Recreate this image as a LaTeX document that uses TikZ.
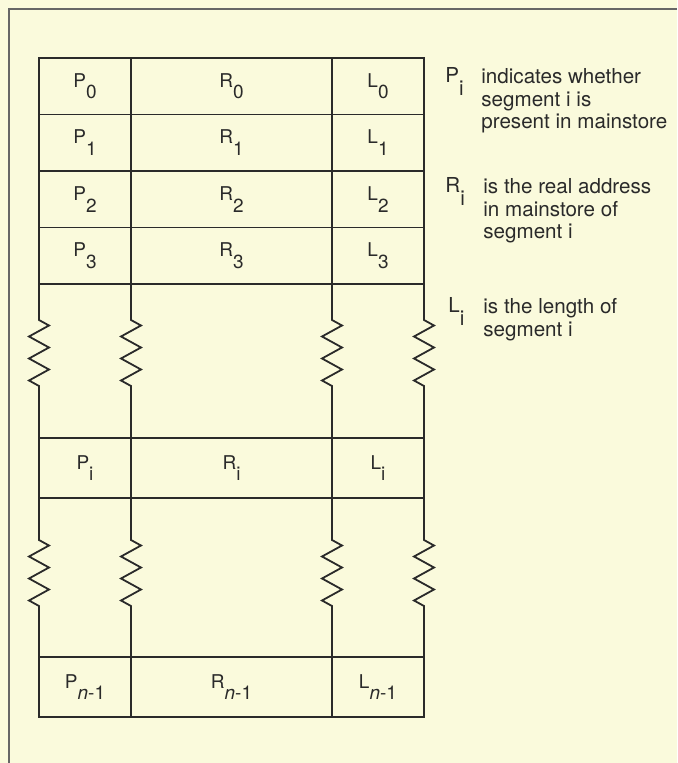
\documentclass[tikz,border=0pt]{standalone}
\usepackage{fontspec}
\setmainfont{TeX Gyre Heros}
\usepackage{tikz}
\usetikzlibrary{positioning,decorations.pathmorphing}
\definecolor{paper}{HTML}{FAFADC}
\definecolor{ink}{HTML}{2A2A2A}
\newcommand{\lowsub}[1]{\raisebox{-0.62em}{#1}}
\tikzset{
  seg/cell/.style={draw=ink, line width=0.9pt, inner sep=0pt, outer sep=0pt, minimum height=28.25pt, text=ink, font=\fontsize{9.5}{11}\selectfont},
  seg/flag/.style={seg/cell, minimum width=46pt},
  seg/addr/.style={seg/cell, minimum width=100.5pt},
  seg/len/.style={seg/cell, minimum width=46pt},
  seg/tall/.style={minimum height=30pt},
  seg/gap/.style 2 args={draw=ink, line width=0.9pt, decorate, decoration={zigzag, amplitude=5pt, segment length=11pt, pre length=#1, post length=#2}},
  key/sym/.style={inner sep=0pt, anchor=base west, text=ink, font=\fontsize{10.3}{11.25}\selectfont},
  key/text/.style={inner sep=0pt, anchor=north west, align=left, text=ink, font=\fontsize{10.3}{11.25}\selectfont},
  frame/.style={draw=black!60, line width=0.6pt}
}

\begin{document}
\begin{tikzpicture}[x=0.5pt, y=-0.5pt, node distance=0pt]
\fill[paper] (0,0) rectangle (677,763);
\useasboundingbox (0,0) rectangle (677,763);
\draw[frame] (9,763) -- (9,9) -- (677,9);

% rows 0 to 3
\node[seg/flag] (p0) at (85,86.25) {P\lowsub{0}};
\node[seg/addr, right=of p0] (r0) {R\lowsub{0}};
\node[seg/len, right=of r0] (l0) {L\lowsub{0}};
\node[seg/flag, below=of p0] (p1) {P\lowsub{1}};
\node[seg/addr, right=of p1] (r1) {R\lowsub{1}};
\node[seg/len, right=of r1] (l1) {L\lowsub{1}};
\node[seg/flag, below=of p1] (p2) {P\lowsub{2}};
\node[seg/addr, right=of p2] (r2) {R\lowsub{2}};
\node[seg/len, right=of r2] (l2) {L\lowsub{2}};
\node[seg/flag, below=of p2] (p3) {P\lowsub{3}};
\node[seg/addr, right=of p3] (r3) {R\lowsub{3}};
\node[seg/len, right=of r3] (l3) {L\lowsub{3}};

% row i
\node[seg/flag, seg/tall, below=77pt of p3] (pi) {P\lowsub{i}};
\node[seg/addr, seg/tall, right=of pi] (ri) {R\lowsub{i}};
\node[seg/len, seg/tall, right=of ri] (li) {L\lowsub{i}};

% row n-1
\node[seg/flag, seg/tall, below=79.5pt of pi] (pn) {P\lowsub{\textit{n}-1}};
\node[seg/addr, seg/tall, right=of pn] (rn) {R\lowsub{\textit{n}-1}};
\node[seg/len, seg/tall, right=of rn] (ln) {L\lowsub{\textit{n}-1}};

% broken columns
\draw[seg/gap={18pt}{25.5pt}] (p3.south west) -- (pi.north west);
\draw[seg/gap={18pt}{25.5pt}] (p3.south east) -- (pi.north east);
\draw[seg/gap={18pt}{25.5pt}] (r3.south east) -- (ri.north east);
\draw[seg/gap={18pt}{25.5pt}] (l3.south east) -- (li.north east);
\draw[seg/gap={21pt}{24.5pt}] (pi.south west) -- (pn.north west);
\draw[seg/gap={21pt}{24.5pt}] (pi.south east) -- (pn.north east);
\draw[seg/gap={21pt}{24.5pt}] (ri.south east) -- (rn.north east);
\draw[seg/gap={21pt}{24.5pt}] (li.south east) -- (ln.north east);

% key
\node[key/sym] (pkey) at (445,83) {P\lowsub{i}};
\node[key/text] (ptext) at (481,68.5) {indicates whether\\segment i is\\present in mainstore};
\node[key/sym] (rkey) at (445,193) {R\lowsub{i}};
\node[key/text] (rtext) at (483,178.5) {is the real address\\in mainstore of\\segment i};
\node[key/sym] (lkey) at (448,313) {L\lowsub{i}};
\node[key/text] (ltext) at (483,298.5) {is the length of\\segment i};
\end{tikzpicture}
\end{document}
